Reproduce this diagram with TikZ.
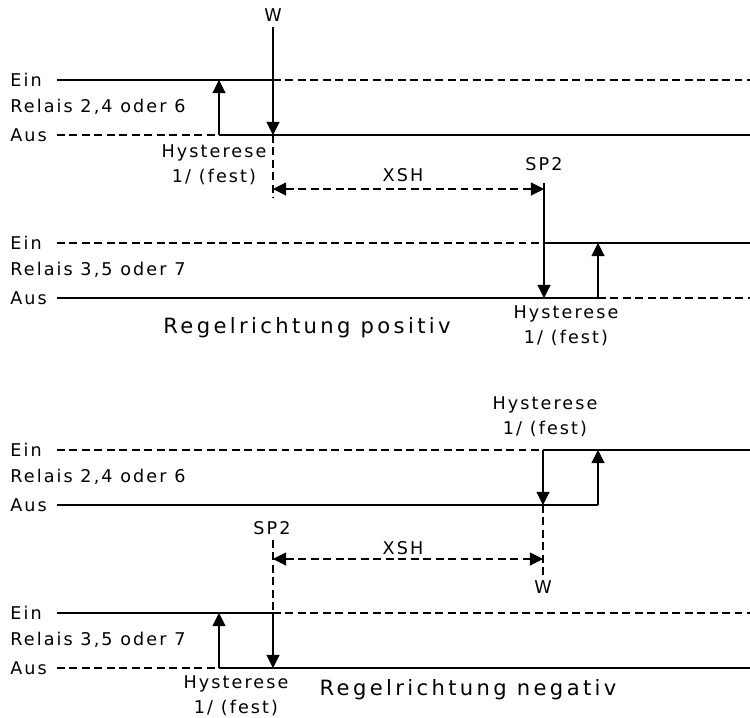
\documentclass[tikz,border=0pt]{standalone}
\usepackage{fontspec}
\usetikzlibrary{arrows.meta}
\newfontfamily\plotfont[LetterSpace=12]{DejaVu Sans}
\newfontfamily\titlefont[LetterSpace=16]{DejaVu Sans}
\tikzset{
  >={Triangle[length=7.5pt,width=7.5pt]},
  level/.style={line width=0.6pt},
  dashline/.style={line width=0.6pt,dash pattern=on 4.5pt off 2.6pt},
  lbl/.style={font=\plotfont\fontsize{10}{14}\selectfont,inner sep=0pt},
  hyst/.style={lbl,align=center},
  titel/.style={font=\titlefont\fontsize{12}{14}\selectfont,inner sep=0pt},
}

\begin{document}
\begin{tikzpicture}[x=0.02cm,y=-0.02cm]
  \useasboundingbox (0,0) rectangle (750,717);

  % Regelrichtung positiv, Relais 2,4 oder 6
  \node[lbl,anchor=west] (ein1) at (10,80) {Ein};
  \node[lbl,anchor=west] (rel1) at (10,107) {Relais 2,4 oder 6};
  \node[lbl,anchor=west] (aus1) at (10,135) {Aus};
  \draw[level] (57,80) -- (273,80);
  \draw[dashline] (273,80) -- (750,80);
  \draw[dashline] (57,135) -- (219,135);
  \draw[level] (219,135) -- (750,135);
  \node[lbl] (w1) at (273,15) {W};
  \draw[level,->] (273,27) -- (273,135);
  \draw[level,->] (219,135) -- (219,80);
  \draw[dashline] (273,135) -- (273,198);
  \node[hyst] (hy1) at (214,165) {Hysterese\\1/ (fest)};

  \draw[dashline,<->] (273,189) -- (544,189);
  \node[lbl] (xsh1) at (403,175) {XSH};
  \node[lbl] (sp1) at (544,164) {SP2};
  \draw[level,->] (544,183) -- (544,298);

  % Regelrichtung positiv, Relais 3,5 oder 7
  \node[lbl,anchor=west] (ein2) at (10,243) {Ein};
  \node[lbl,anchor=west] (rel2) at (10,270) {Relais 3,5 oder 7};
  \node[lbl,anchor=west] (aus2) at (10,298) {Aus};
  \draw[dashline] (57,243) -- (544,243);
  \draw[level] (544,243) -- (750,243);
  \draw[level] (57,298) -- (598,298);
  \draw[dashline] (598,298) -- (750,298);
  \draw[level,->] (598,298) -- (598,243);
  \node[hyst] (hy2) at (566,326) {Hysterese\\1/ (fest)};
  \node[titel] (pos) at (307,328) {Regelrichtung positiv};

  % Regelrichtung negativ, Relais 2,4 oder 6
  \node[hyst] (hy3) at (545,417) {Hysterese\\1/ (fest)};
  \node[lbl,anchor=west] (ein3) at (10,450) {Ein};
  \node[lbl,anchor=west] (rel3) at (10,477) {Relais 2,4 oder 6};
  \node[lbl,anchor=west] (aus3) at (10,505) {Aus};
  \draw[dashline] (57,450) -- (543,450);
  \draw[level] (543,450) -- (750,450);
  \draw[level] (57,505) -- (598,505);
  \draw[level,->] (598,505) -- (598,450);
  \draw[level,->] (543,450) -- (543,505);
  \draw[dashline] (543,505) -- (543,575);
  \node[lbl] (w2) at (543,587) {W};

  \node[lbl] (sp2) at (272,528) {SP2};
  \draw[dashline] (273,540) -- (273,613);
  \draw[level,->] (273,613) -- (273,668);
  \draw[dashline,<->] (273,559) -- (543,559);
  \node[lbl] (xsh2) at (403,548) {XSH};

  % Regelrichtung negativ, Relais 3,5 oder 7
  \node[lbl,anchor=west] (ein4) at (10,613) {Ein};
  \node[lbl,anchor=west] (rel4) at (10,640) {Relais 3,5 oder 7};
  \node[lbl,anchor=west] (aus4) at (10,668) {Aus};
  \draw[level] (57,613) -- (273,613);
  \draw[dashline] (273,613) -- (750,613);
  \draw[dashline] (57,668) -- (219,668);
  \draw[level] (219,668) -- (750,668);
  \draw[level,->] (219,668) -- (219,613);
  \node[hyst] (hy4) at (236,696) {Hysterese\\1/ (fest)};
  \node[titel] (neg) at (468,690) {Regelrichtung negativ};

\end{tikzpicture}
\end{document}
